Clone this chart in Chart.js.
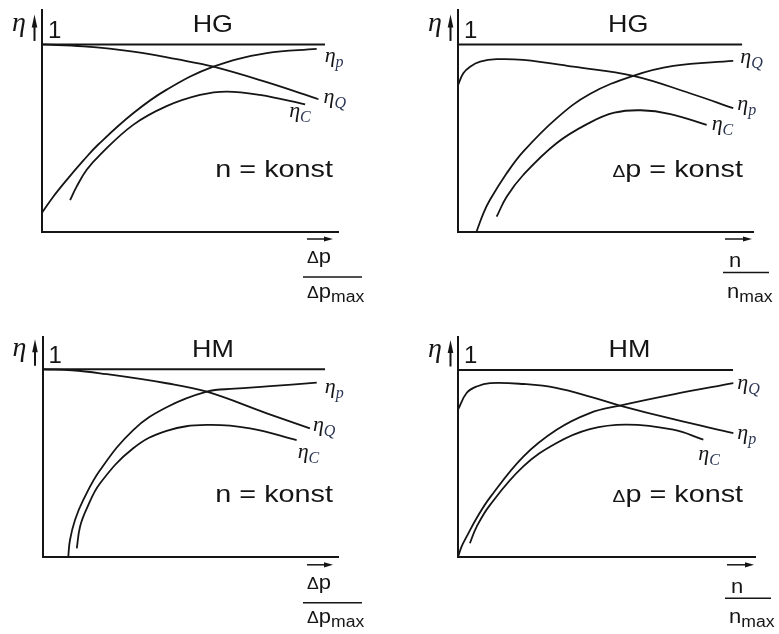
<!DOCTYPE html>
<html>
<head>
<meta charset="utf-8">
<script src="https://cdn.jsdelivr.net/npm/chart.js@4.4.1/dist/chart.umd.min.js"></script>
<style>
  html, body { margin: 0; padding: 0; background: #fff; }
  #wrap { position: relative; width: 779px; height: 634px; overflow: hidden; background: #fff; }
  #wrap canvas { position: absolute; }
</style>
</head>
<body>
<div id="wrap">
  <canvas id="c1" width="390" height="317" style="left:0;top:0"></canvas>
  <canvas id="c2" width="389" height="317" style="left:390px;top:0"></canvas>
  <canvas id="c3" width="390" height="317" style="left:0;top:317px"></canvas>
  <canvas id="c4" width="389" height="317" style="left:390px;top:317px"></canvas>
</div>
<script>
// efficiency curves, [x, eta] pairs (x = dp/dpmax or n/nmax)
// HG = top row, HM = bottom row; Dp = n konst (left), N = dp konst (right)
const hgDpEtaP = [[0, 0.10], [0.038, 0.186], [0.083, 0.275], [0.14, 0.38], [0.19, 0.465], [0.308, 0.632], [0.42, 0.757], [0.579, 0.881], [0.759, 0.953], [0.928, 0.976]];
const hgDpEtaQ = [[0, 1.0], [0.14, 0.99], [0.308, 0.962], [0.455, 0.921], [0.579, 0.881], [0.759, 0.798], [0.934, 0.707]];
const hgDpEtaC = [[0.095, 0.168], [0.117, 0.24], [0.151, 0.33], [0.196, 0.41], [0.308, 0.57], [0.421, 0.67], [0.534, 0.73], [0.624, 0.748], [0.736, 0.73], [0.889, 0.68]];

const hgNEtaP = [[0, 0.783], [0.018, 0.846], [0.041, 0.881], [0.075, 0.908], [0.131, 0.921], [0.221, 0.917], [0.391, 0.881], [0.594, 0.832], [0.786, 0.739], [0.933, 0.659]];
const hgNEtaQ = [[0.063, 0], [0.086, 0.097], [0.108, 0.168], [0.165, 0.311], [0.221, 0.427], [0.334, 0.605], [0.447, 0.735], [0.594, 0.832], [0.73, 0.885], [0.933, 0.912]];
const hgNEtaC = [[0.131, 0.079], [0.165, 0.186], [0.221, 0.302], [0.334, 0.472], [0.447, 0.582], [0.53, 0.635], [0.62, 0.648], [0.72, 0.628], [0.843, 0.57]];

const hmDpEtaP = [[0.087, 0], [0.093, 0.092], [0.11, 0.198], [0.138, 0.305], [0.195, 0.464], [0.307, 0.677], [0.42, 0.798], [0.556, 0.881], [0.65, 0.897], [0.759, 0.909], [0.928, 0.929]];
const hmDpEtaQ = [[0, 1.0], [0.1, 0.995], [0.195, 0.979], [0.42, 0.926], [0.556, 0.881], [0.759, 0.766], [0.905, 0.686]];
const hmDpEtaC = [[0.116, 0.048], [0.127, 0.163], [0.15, 0.26], [0.195, 0.394], [0.307, 0.58], [0.42, 0.673], [0.556, 0.704], [0.702, 0.686], [0.86, 0.624]];

const hmNEtaP = [[0, 0.788], [0.029, 0.877], [0.063, 0.912], [0.108, 0.93], [0.22, 0.925], [0.33, 0.905], [0.45, 0.855], [0.545, 0.81], [0.725, 0.737], [0.927, 0.663]];
const hmNEtaQ = [[0, 0], [0.012, 0.057], [0.029, 0.11], [0.063, 0.21], [0.108, 0.32], [0.22, 0.538], [0.332, 0.681], [0.444, 0.77], [0.545, 0.81], [0.725, 0.87], [0.927, 0.93]];
const hmNEtaC = [[0.04, 0.075], [0.063, 0.164], [0.108, 0.28], [0.22, 0.485], [0.332, 0.61], [0.444, 0.684], [0.568, 0.708], [0.725, 0.681], [0.826, 0.628]];

// eta = 1 reference line and where it stops in each panel
const refLevel = 1;
const refEnd = [0.956, 0.963, 0.956, 0.926];

const titles = ['HG', 'HG', 'HM', 'HM'];
const subs = ['p', 'Q', 'C'];

const SANS = '"Liberation Sans", Arial, sans-serif';
const SERIF = '"Liberation Serif", "DejaVu Serif", serif';
const INK = '#151515';
const SUB_INK = '#2a3552';

// text in pieces (for subscripts and the small delta), stretched a bit wider like the original
function drawRun(ctx, parts, x, y, align, sx) {
  let total = 0;
  parts.forEach(p => {
    ctx.font = p.font;
    p.w = ctx.measureText(p.t).width * sx;
    total += p.w;
  });
  let cx = align === 'right' ? x - total : align === 'center' ? x - total / 2 : x;
  parts.forEach(p => {
    ctx.save();
    ctx.translate(cx, y + (p.dy || 0));
    ctx.scale(sx, 1);
    ctx.font = p.font;
    ctx.fillStyle = p.color || INK;
    ctx.textAlign = 'left';
    ctx.textBaseline = 'alphabetic';
    ctx.fillText(p.t, 0, 0);
    ctx.restore();
    cx += p.w;
  });
}

function arrowRight(ctx, x0, x1, yy) {
  ctx.lineWidth = 1.5;
  ctx.beginPath(); ctx.moveTo(x0, yy); ctx.lineTo(x1 - 6, yy); ctx.stroke();
  ctx.beginPath(); ctx.moveTo(x1, yy); ctx.lineTo(x1 - 9, yy - 2.6); ctx.lineTo(x1 - 9, yy + 2.6); ctx.closePath(); ctx.fill();
}

const sketch = {
  id: 'sketch',
  afterDraw(chart, args, o) {
    const { ctx, chartArea: a, scales: { x, y } } = chart;
    const y1 = y.getPixelForValue(refLevel);
    const y0 = y.getPixelForValue(0);
    ctx.save();
    ctx.strokeStyle = INK;
    ctx.fillStyle = INK;

    // eta with the up arrow, the "1" and the title
    const ax = a.left - 7.5;
    ctx.lineWidth = 2;
    ctx.beginPath(); ctx.moveTo(ax, y1 - 3.5); ctx.lineTo(ax, y1 - 20); ctx.stroke();
    ctx.beginPath(); ctx.moveTo(ax, y1 - 30); ctx.lineTo(ax - 2.8, y1 - 17); ctx.lineTo(ax + 2.8, y1 - 17); ctx.closePath(); ctx.fill();
    drawRun(ctx, [{ t: 'η', font: 'italic 28px ' + SERIF }], a.left - 16, y1 - 13, 'right', 1);
    drawRun(ctx, [{ t: '1', font: '24px ' + SANS }], a.left + 6, y1 - 6.5, 'left', 1);
    drawRun(ctx, [{ t: o.title, font: '24px ' + SANS }], x.getPixelForValue(0.577), y1 - 12.5, 'center', 1.12);

    // curve names at the curve ends
    o.labels.forEach((lb, i) => {
      const pts = chart.data.datasets[i + 1].data;
      const last = pts[pts.length - 1];
      const px = x.getPixelForValue(last[0]) + lb.off[0];
      const py = y.getPixelForValue(last[1]) + lb.off[1];
      drawRun(ctx, [
        { t: 'η', font: 'italic 22px ' + SERIF },
        { t: lb.sub, font: 'italic 16px ' + SERIF, dy: 5, color: SUB_INK }
      ], px, py, 'left', 1);
    });

    // operating condition
    const cond = o.byN
      ? [{ t: 'Δ', font: '16px ' + SANS }, { t: 'p = konst', font: '24px ' + SANS }]
      : [{ t: 'n = konst', font: '24px ' + SANS }];
    drawRun(ctx, cond, x.getPixelForValue(o.condRight), y0 - 55, 'right', 1.2);

    // axis quantity as a fraction with arrow
    const rx = a.right;
    if (o.byN) {
      arrowRight(ctx, rx - 28, rx - 1, y0 + 7.5);
      drawRun(ctx, [{ t: 'n', font: '20px ' + SANS }], rx - 24, y0 + 35.5, 'left', 1.1);
      ctx.lineWidth = 1.5;
      ctx.beginPath(); ctx.moveTo(rx - 30, y0 + 41); ctx.lineTo(rx + 16, y0 + 41); ctx.stroke();
      drawRun(ctx, [{ t: 'n', font: '20px ' + SANS }, { t: 'max', font: '16px ' + SANS, dy: 4 }], rx - 26, y0 + 66, 'left', 1.1);
    } else {
      arrowRight(ctx, rx - 31, rx - 5, y0 + 7.5);
      drawRun(ctx, [{ t: 'Δ', font: '16px ' + SANS }, { t: 'p', font: '20px ' + SANS }], rx - 31, y0 + 31.5, 'left', 1.1);
      ctx.lineWidth = 1.5;
      ctx.beginPath(); ctx.moveTo(rx - 35, y0 + 45.5); ctx.lineTo(rx + 24, y0 + 45.5); ctx.stroke();
      drawRun(ctx, [{ t: 'Δ', font: '16px ' + SANS }, { t: 'p', font: '20px ' + SANS }, { t: 'max', font: '16px ' + SANS, dy: 4 }], rx - 31, y0 + 66, 'left', 1.1);
    }
    ctx.restore();
  }
};

const panels = [
  { id: 'c1', curves: [hgDpEtaP, hgDpEtaQ, hgDpEtaC], byN: false, pad: { left: 42, top: 10, right: 52, bottom: 85.5 }, yMax: 1.184, condRight: 0.983,
    off: [[8, 13.5], [5, 4], [-16, 13]] },
  { id: 'c2', curves: [hgNEtaP, hgNEtaQ, hgNEtaC], byN: true, pad: { left: 68, top: 10, right: 26, bottom: 85.5 }, yMax: 1.184, condRight: 0.966,
    off: [[4, 2], [7, 2], [5, 5]] },
  { id: 'c3', curves: [hmDpEtaP, hmDpEtaQ, hmDpEtaC], byN: false, pad: { left: 42.5, top: 20, right: 52, bottom: 76.7 }, yMax: 1.172, condRight: 0.983,
    off: [[8, 10], [3, 3], [1, 18]] },
  { id: 'c4', curves: [hmNEtaP, hmNEtaQ, hmNEtaC], byN: true, pad: { left: 68, top: 20, right: 24, bottom: 76.7 }, yMax: 1.176, condRight: 0.96,
    off: [[4, 6], [4, 6], [-5, 20]] }
];

panels.forEach((p, k) => {
  const line = data => ({
    data: data,
    borderColor: INK,
    borderWidth: 1.8,
    pointRadius: 0,
    fill: false,
    tension: 0.4
  });
  const datasets = [
    { data: [[0, refLevel], [refEnd[k], refLevel]], borderColor: INK, borderWidth: 2, pointRadius: 0, fill: false, tension: 0 }
  ].concat(p.curves.map(line));

  new Chart(document.getElementById(p.id), {
    type: 'line',
    data: { datasets },
    options: {
      responsive: false,
      animation: false,
      devicePixelRatio: 1,
      events: [],
      layout: { padding: p.pad, autoPadding: false },
      scales: {
        x: {
          type: 'linear', min: 0, max: 1,
          grid: { display: false, drawTicks: false },
          ticks: { display: false },
          border: { display: true, color: INK, width: 2 }
        },
        y: {
          type: 'linear', min: 0, max: p.yMax,
          grid: { display: false, drawTicks: false },
          ticks: { display: false },
          border: { display: true, color: INK, width: 2 }
        }
      },
      plugins: {
        legend: { display: false },
        tooltip: { enabled: false },
        sketch: {
          title: titles[k],
          byN: p.byN,
          condRight: p.condRight,
          labels: subs.map((s, i) => ({ sub: s, off: p.off[i] }))
        }
      }
    },
    plugins: [sketch]
  });
});
</script>
</body>
</html>
